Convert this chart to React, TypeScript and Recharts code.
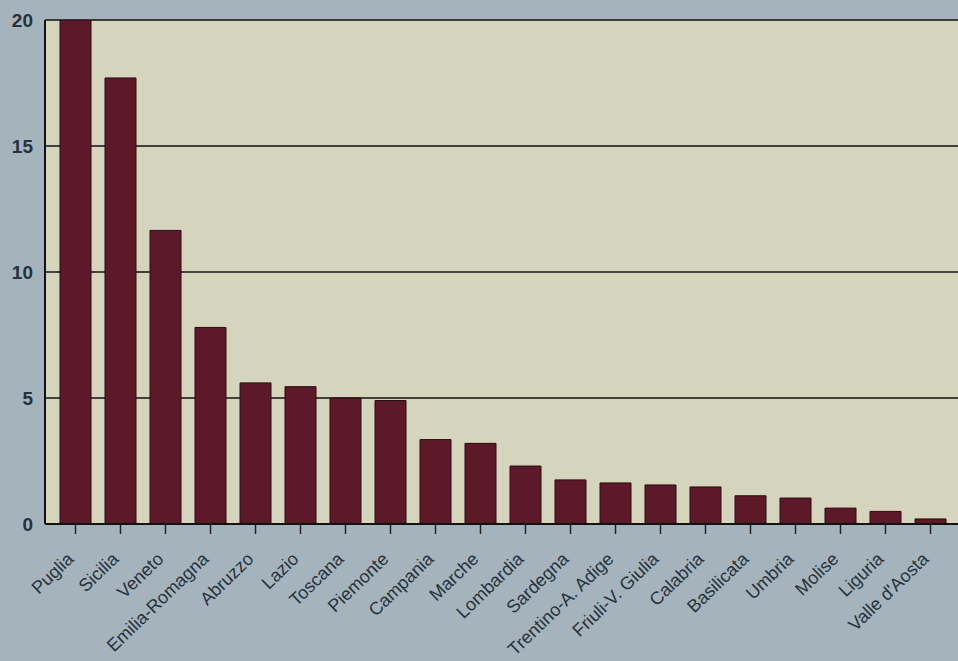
import { Bar, BarChart, CartesianGrid, XAxis, YAxis } from "recharts";

const regions = [
  "Puglia",
  "Sicilia",
  "Veneto",
  "Emilia-Romagna",
  "Abruzzo",
  "Lazio",
  "Toscana",
  "Piemonte",
  "Campania",
  "Marche",
  "Lombardia",
  "Sardegna",
  "Trentino-A. Adige",
  "Friuli-V. Giulia",
  "Calabria",
  "Basilicata",
  "Umbria",
  "Molise",
  "Liguria",
  "Valle d'Aosta",
];

const values = [
  20, 17.7, 11.65, 7.8, 5.6, 5.45, 5.0, 4.9, 3.35, 3.2, 2.3, 1.75, 1.63, 1.55, 1.47, 1.12, 1.03, 0.63, 0.5, 0.2,
];

const yTicks = [0, 5, 10, 15, 20];

const data = regions.map((name, i) => ({ name, value: values[i] }));

const FONT = "'Liberation Sans', Arial, sans-serif";
const INK = "#26323c";

function RegionTick({ x, y, payload }: any) {
  return (
    <g transform={`translate(${x - 5},${y + 20})`}>
      <text
        transform="rotate(-44)"
        textAnchor="end"
        dy={6}
        fontSize={18}
        fontFamily={FONT}
        fill={INK}
      >
        {payload.value}
      </text>
    </g>
  );
}

export default function App() {
  return (
    <div style={{ position: "absolute", left: 0, top: 0, width: 958, height: 661, background: "#a5b4bc" }}>
      <BarChart
        width={958}
        height={661}
        data={data}
        margin={{ top: 20, right: 0, bottom: 0, left: 0 }}
        barSize={31}
      >
        <CartesianGrid vertical={false} fill="#d5d4bd" stroke="#111" strokeWidth={1.5} strokeOpacity={1} />
        <XAxis
          dataKey="name"
          interval={0}
          height={137}
          padding={{ left: 8, right: 5 }}
          axisLine={{ stroke: "#111", strokeWidth: 2 }}
          tickLine={{ stroke: "#222", strokeWidth: 1.5 }}
          tickSize={10}
          tick={<RegionTick />}
        />
        <YAxis
          width={45}
          domain={[0, 20]}
          ticks={yTicks}
          allowDataOverflow
          axisLine={{ stroke: "#111", strokeWidth: 2 }}
          tickLine={false}
          tickSize={0}
          tickMargin={12}
          tick={{ fontSize: 19, fontWeight: 700, fontFamily: FONT, fill: INK }}
        />
        <Bar dataKey="value" fill="#5c1928" stroke="#2c0a12" strokeWidth={1} isAnimationActive={false} />
      </BarChart>
    </div>
  );
}
